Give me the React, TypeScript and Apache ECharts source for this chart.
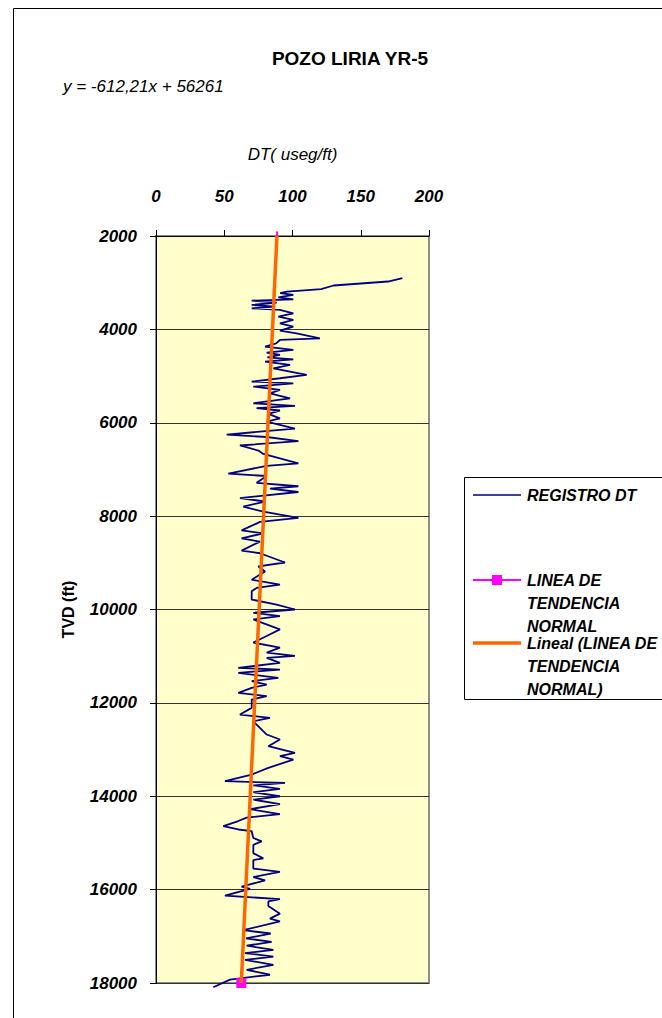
import { useEffect, useRef } from "react";
import * as echarts from "echarts";

const TITLE = "POZO LIRIA YR-5";
const EQUATION = "y = -612,21x + 56261";
const X_NAME = "DT( useg/ft)";
const Y_NAME = "TVD (ft)";
const X_MIN = 0;
const X_MAX = 200;
const X_STEP = 50;
const Y_MIN = 2000;
const Y_MAX = 18000;
const Y_STEP = 2000;

const LEGEND_NAMES = ["REGISTRO DT", "LINEA DE TENDENCIA NORMAL", "Lineal (LINEA DE TENDENCIA NORMAL)"];
const LEGEND_LINES = ["REGISTRO DT", "LINEA DE\nTENDENCIA\nNORMAL", "Lineal (LINEA DE\nTENDENCIA\nNORMAL)"];

// REGISTRO DT: depth (ft) and DT (useg/ft)
const TVD_LOG = [
  2900, 2975, 3060, 3140, 3190, 3225, 3263, 3313, 3356, 3384, 3427, 3477, 3513, 3549, 3584, 3656, 3727, 3798,
  3870, 3941, 4027, 4084, 4191, 4227, 4300, 4369, 4441, 4498, 4548, 4598, 4641, 4691, 4762, 4833, 4976, 5047,
  5119, 5155, 5226, 5297, 5369, 5476, 5583, 5640, 5687, 5738, 5811, 5905, 5978, 6124, 6254, 6305, 6393, 6487,
  6596, 6669, 6872, 6923, 7090, 7141, 7287, 7360, 7410, 7483, 7614, 7687, 7796, 7905, 8036, 8123, 8305, 8369,
  8476, 8547, 8738, 8795, 8993, 9078, 9185, 9362, 9468, 9539, 9610, 9787, 9894, 10000, 10071, 10142, 10213,
  10425, 10567, 10709, 10815, 10922, 10993, 11036, 11143, 11250, 11286, 11357, 11464, 11536, 11607, 11679,
  11786, 11857, 11929, 12107, 12250, 12321, 12393, 12678, 12785, 12928, 13071, 13142, 13214, 13392, 13535,
  13678, 13714, 13767, 13840, 13913, 14000, 14073, 14167, 14276, 14385, 14458, 14531, 14640, 14712, 14749,
  14894, 14967, 15040, 15221, 15330, 15367, 15548, 15621, 15730, 15803, 15934, 15985, 16130, 16203, 16254,
  16350, 16515, 16621, 16678, 16869, 16940, 17045, 17120, 17200, 17290, 17360, 17434, 17505, 17611, 17717,
  17823, 17929, 18092,
];
const DT_LOG = [
  180.5, 170, 130, 121, 96, 91, 100.6, 89.6, 100.6, 70.1, 88.4, 70.1, 87.2, 70.1, 90.8, 100.6, 89.6, 100.6,
  90.8, 100.6, 90.8, 103, 120.1, 90.8, 88, 79.9, 100.6, 81.1, 90.8, 81.6, 100.6, 79.9, 98.2, 86, 110.4, 90.8,
  70.1, 100.6, 71.3, 90.8, 83.5, 98.2, 71.3, 101.8, 73.7, 90.8, 82.3, 90.8, 81.1, 101.8, 51.8, 81.1, 104.3, 61.5,
  75, 78.6, 104.3, 81.1, 53, 81.1, 73.7, 104.3, 83.5, 104.3, 61.5, 79.9, 64, 78.6, 104.3, 76.2, 62.7, 78.6,
  62.7, 76.2, 62.7, 76.2, 94.5, 75, 79.9, 70.1, 90.8, 73.7, 70.1, 70.1, 88.4, 101.8, 71.3, 90.8, 71.3,
  90.8, 81.1, 71.3, 90.8, 81.1, 101.8, 81.1, 90.8, 60.3, 90.8, 60.3, 89.6, 70.1, 81.1, 70.1,
  60.3, 81.1, 70.1, 70.1, 61.5, 83.5, 71.3, 81.1, 90.8, 82.3, 101.8, 90.8, 100.6, 82.3, 70.1,
  50.5, 94.5, 71.3, 90.8, 71.3, 90.8, 71.3, 90.8, 68.9, 90.8, 66.4, 60.3, 49.3, 60.3, 70.1,
  71.3, 77.4, 71.3, 71.3, 78.6, 71.3, 71.3, 90.8, 71.3, 79.9, 62.7, 68.9, 50.5, 90.8, 82.3,
  82.3, 90.8, 83.5, 90.8, 64, 84, 66, 84.7, 66.4, 86, 65.2, 86, 65.2, 86, 66.4,
  83.5, 54.2, 42,
];

// LINEA DE TENDENCIA NORMAL (points) and its linear trend
const NORMAL_TVD = [1900, 18000];
const NORMAL_DT = [88.8, 62.5];
const TREND_TVD = [2000, 18000];
const TREND_DT = [88.6, 62.5];

const FONT = "'Liberation Sans', Arial, sans-serif";

export default function App() {
  const ref = useRef<HTMLDivElement>(null);
  useEffect(() => {
    if (!ref.current) return;
    const chart = echarts.init(ref.current, null, { renderer: "svg" });
    const legendText = {
      fontFamily: FONT,
      fontSize: 16,
      fontStyle: "italic",
      fontWeight: "bold",
      fill: "#000",
      lineHeight: 23,
    };
    chart.setOption({
      animation: false,
      backgroundColor: "#ffffff",
      textStyle: { fontFamily: FONT },
      grid: {
        left: 156,
        top: 236,
        width: 273,
        height: 747,
        show: true,
        backgroundColor: "#FFFFCC",
        borderColor: "#8c8c8c",
        borderWidth: 2,
      },
      xAxis: {
        type: "value",
        position: "top",
        min: X_MIN,
        max: X_MAX,
        interval: X_STEP,
        name: X_NAME,
        nameLocation: "middle",
        nameGap: 82,
        nameTextStyle: { fontSize: 17, fontStyle: "italic", color: "#000", verticalAlign: "middle", fontFamily: FONT },
        axisLine: { onZero: false, lineStyle: { color: "#000", width: 1 } },
        axisTick: { show: true, length: 6, lineStyle: { color: "#000" } },
        axisLabel: { margin: 31, fontSize: 17, fontStyle: "italic", fontWeight: "bold", color: "#000", fontFamily: FONT },
        splitLine: { show: false },
      },
      yAxis: {
        type: "value",
        inverse: true,
        min: Y_MIN,
        max: Y_MAX,
        interval: Y_STEP,
        name: Y_NAME,
        nameLocation: "middle",
        nameGap: 88,
        nameRotate: 90,
        nameTextStyle: { fontSize: 16, fontWeight: "bold", color: "#000", verticalAlign: "middle", fontFamily: FONT },
        axisLine: { show: true, onZero: false, lineStyle: { color: "#000", width: 1 } },
        axisTick: { show: true, length: 6, lineStyle: { color: "#000" } },
        axisLabel: {
          margin: 19,
          fontSize: 17,
          fontStyle: "italic",
          fontWeight: "bold",
          color: "#000",
          fontFamily: FONT,
          formatter: (v: number) => String(v),
        },
        splitLine: { show: true, lineStyle: { color: "#333", width: 1 } },
      },
      series: [
        {
          name: LEGEND_NAMES[0],
          type: "line",
          data: DT_LOG.map((d, i) => [d, TVD_LOG[i]]),
          showSymbol: false,
          symbol: "none",
          clip: false,
          lineStyle: { color: "#000080", width: 1.8 },
          z: 2,
        },
        {
          name: LEGEND_NAMES[1],
          type: "line",
          data: NORMAL_DT.map((d, i) =>
            i === 0 ? { value: [d, NORMAL_TVD[i]], symbol: "none" } : { value: [d, NORMAL_TVD[i]] }
          ),
          symbol: "rect",
          symbolSize: 10,
          showAllSymbol: true,
          clip: false,
          lineStyle: { color: "#FF00FF", width: 2 },
          itemStyle: { color: "#FF00FF" },
          z: 3,
        },
        {
          name: LEGEND_NAMES[2],
          type: "line",
          data: TREND_DT.map((d, i) => [d, TREND_TVD[i]]),
          symbol: "none",
          clip: false,
          lineStyle: { color: "#FF6600", width: 3.5 },
          z: 4,
        },
      ],
      graphic: [
        {
          type: "rect",
          silent: true,
          z: -10,
          shape: { x: 13.5, y: 8.5, width: 720, height: 1100 },
          style: { fill: "none", stroke: "#000", lineWidth: 1 },
        },
        {
          type: "text",
          x: 350,
          y: 58,
          style: { text: TITLE, fontFamily: FONT, fontSize: 19, fontWeight: "bold", fill: "#000", align: "center", verticalAlign: "middle" },
        },
        {
          type: "text",
          x: 63,
          y: 86,
          style: { text: EQUATION, fontFamily: FONT, fontSize: 17, fontStyle: "italic", fill: "#000", align: "left", verticalAlign: "middle" },
        },
        {
          type: "rect",
          silent: true,
          shape: { x: 464.5, y: 477.5, width: 300, height: 222 },
          style: { fill: "#fff", stroke: "#000", lineWidth: 1 },
        },
        {
          type: "line",
          shape: { x1: 473, y1: 495, x2: 521, y2: 495 },
          style: { stroke: "#000080", lineWidth: 1.6 },
        },
        {
          type: "text",
          x: 527,
          y: 495,
          style: { ...legendText, text: LEGEND_LINES[0], align: "left", verticalAlign: "middle" },
        },
        {
          type: "line",
          shape: { x1: 473, y1: 580, x2: 521, y2: 580 },
          style: { stroke: "#FF00FF", lineWidth: 2 },
        },
        {
          type: "rect",
          shape: { x: 492, y: 575, width: 10, height: 10 },
          style: { fill: "#FF00FF" },
        },
        {
          type: "text",
          x: 527,
          y: 568.5,
          style: { ...legendText, text: LEGEND_LINES[1], align: "left", verticalAlign: "top" },
        },
        {
          type: "line",
          shape: { x1: 473, y1: 643, x2: 521, y2: 643 },
          style: { stroke: "#FF6600", lineWidth: 3.5 },
        },
        {
          type: "text",
          x: 527,
          y: 631.5,
          style: { ...legendText, text: LEGEND_LINES[2], align: "left", verticalAlign: "top" },
        },
      ],
    });
    return () => chart.dispose();
  }, []);
  return (
    <div
      ref={ref}
      style={{ position: "absolute", left: 0, top: 0, width: 662, height: 1018, background: "#fff" }}
    />
  );
}
